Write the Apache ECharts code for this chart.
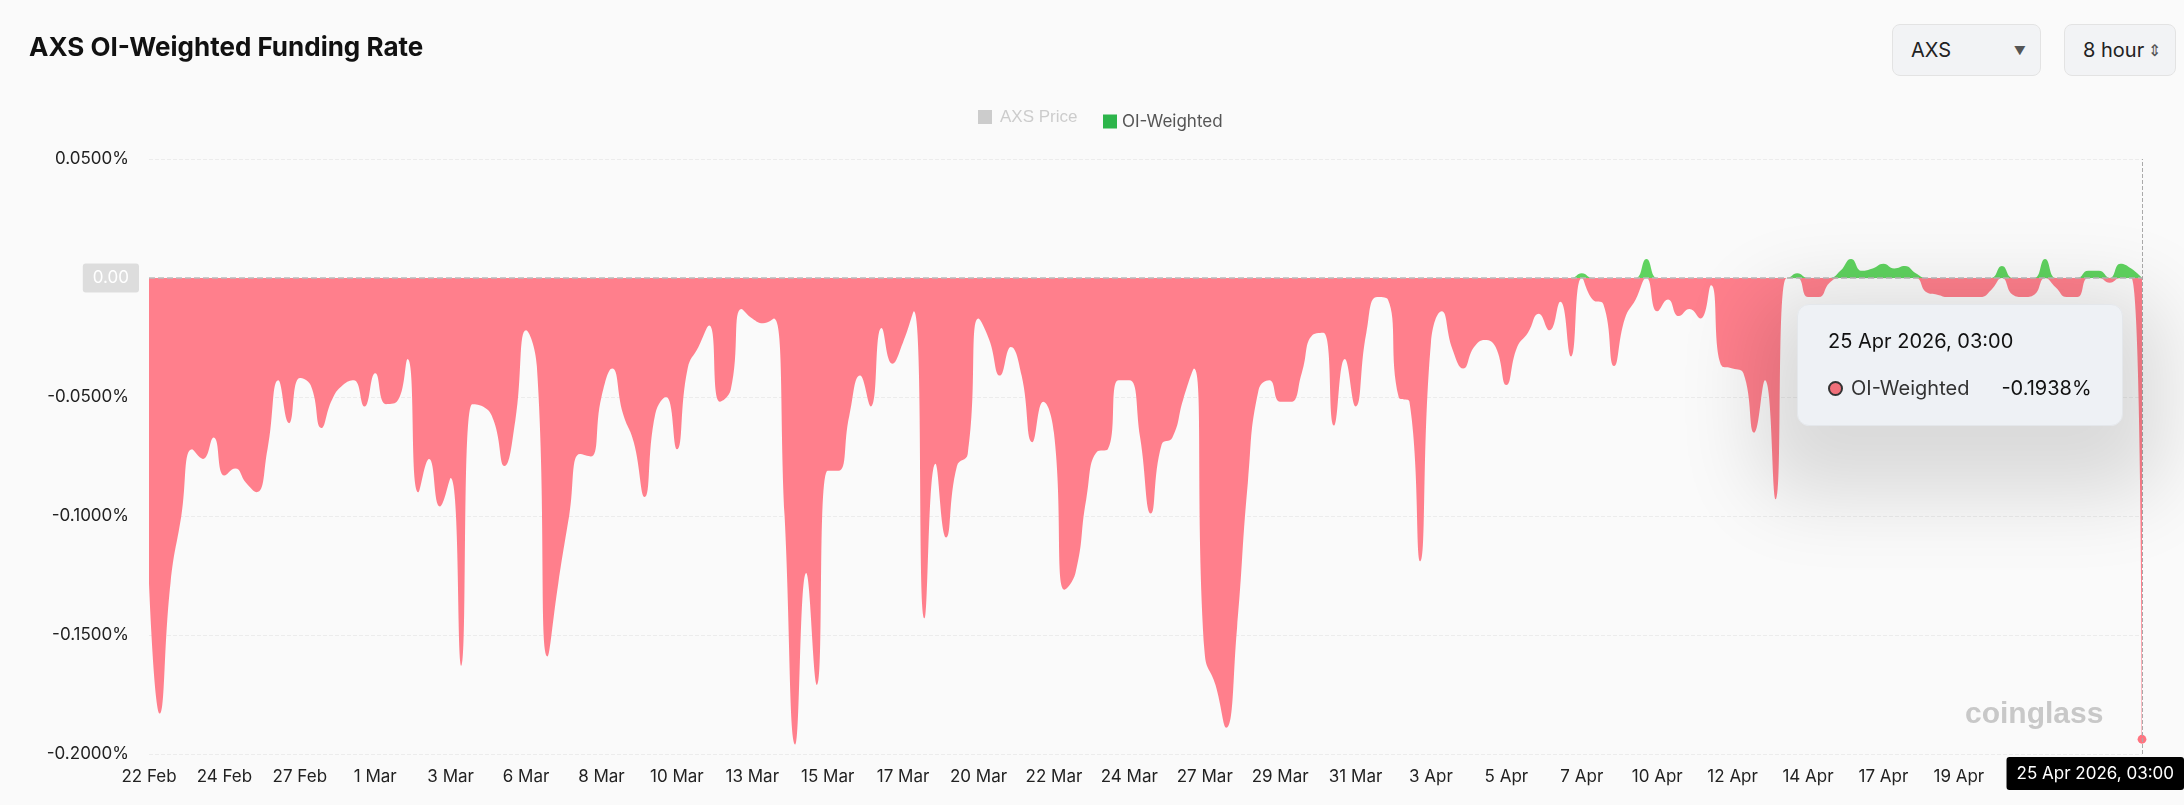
<!DOCTYPE html>
<html>
<head>
<meta charset="utf-8">
<script src="https://cdn.jsdelivr.net/npm/echarts@6/dist/echarts.min.js"></script>
<style>
  body { margin: 0; background: #fafafa; font-family: Inter, "Noto Sans", sans-serif; }
  #chart { width: 2184px; height: 805px; }
  .btn { position: absolute; top: 24px; height: 52px; border: 1px solid #e3e3e3; border-radius: 8px; background: #f2f3f5; white-space: nowrap;
         font-size: 20px; color: #222; display: flex; align-items: center; box-sizing: border-box; padding: 0 14px 0 18px; }
  .tab { position: absolute; top: -20px; height: 24px; border: 1px solid #e3e3e3; border-radius: 8px; background: #f2f2f2; }
</style>
</head>
<body>
<div class="tab" style="left:0;width:100px"></div>
<div class="tab" style="left:148px;width:342px"></div>
<div class="tab" style="left:515px;width:128px"></div>
<div class="tab" style="left:650px;width:150px"></div>
<div id="chart"></div>
<div class="btn" style="left:1892px;width:149px;justify-content:space-between">AXS <span style="font-size:12px;color:#555">&#9660;</span></div>
<div class="btn" style="left:2064px;width:112px;justify-content:space-between">8 hour <span style="font-size:16px;color:#555">&#8661;</span></div>
<script>
// funding rate, %, one point per 8 hours, ending 25 Apr 2026 03:00
const lastTime = Date.UTC(2026, 3, 25, 3, 0);
const values = [
  -0.128, -0.183, -0.128, -0.100, -0.072, -0.076, -0.067, -0.083, -0.080, -0.086,
  -0.090, -0.072, -0.043, -0.061, -0.042, -0.045, -0.063, -0.051, -0.045, -0.043,
  -0.054, -0.040, -0.053, -0.052, -0.034, -0.090, -0.076, -0.096, -0.084, -0.163,
  -0.053, -0.054, -0.060, -0.079, -0.060, -0.022, -0.037, -0.159, -0.128, -0.100,
  -0.074, -0.075, -0.050, -0.038, -0.057, -0.069, -0.092, -0.057, -0.050,
  -0.072, -0.038, -0.029, -0.020, -0.052, -0.047, -0.013, -0.017, -0.019, -0.017,
  -0.100, -0.196, -0.124, -0.171, -0.081, -0.081, -0.058, -0.041, -0.054, -0.021,
  -0.036, -0.027, -0.014, -0.143, -0.078, -0.109, -0.079, -0.074, -0.017, -0.026,
  -0.041, -0.029, -0.041, -0.069, -0.052, -0.065, -0.131, -0.124, -0.093, -0.073,
  -0.072, -0.043, -0.043, -0.067, -0.099, -0.070, -0.067, -0.051, -0.038, -0.158,
  -0.171, -0.189, -0.147, -0.086, -0.047, -0.043, -0.052, -0.052, -0.040, -0.024,
  -0.023, -0.062, -0.034, -0.054, -0.023, -0.008, -0.009, -0.050, -0.052,
  -0.119, -0.027, -0.014, -0.030, -0.038, -0.029, -0.026, -0.029, -0.045, -0.029,
  -0.023, -0.015, -0.022, -0.010, -0.033, 0.002, -0.009, -0.011, -0.037, -0.017,
  -0.009, 0.008, -0.014, -0.009, -0.016, -0.013, -0.017, -0.003, -0.037, -0.038,
  -0.040, -0.065, -0.043, -0.093, 0.000, 0.002, -0.008, -0.008, -0.002, 0.003,
  0.008, 0.003, 0.004, 0.006, 0.004, 0.005, 0.002, -0.006, -0.007, -0.008,
  -0.008, -0.008, -0.008, -0.005, 0.005, -0.007, -0.008, -0.007, 0.008,
  -0.004, -0.008, -0.008, 0.003, 0.003, -0.002, 0.006, 0.004, -0.1938
];
const months = ['Jan','Feb','Mar','Apr','May','Jun','Jul','Aug','Sep','Oct','Nov','Dec'];
const times = values.map((v, i) => lastTime - (values.length - 1 - i) * 8 * 3600 * 1000);
const negPart = values.map(v => Math.min(v, 0));
const posPart = values.map(v => Math.max(v, 0));
const yTicks = [0.05, 0, -0.05, -0.1, -0.15, -0.2];

function pad(n) { return String(n).padStart(2, '0'); }
function fullDate(t) {
  const d = new Date(t);
  return d.getUTCDate() + ' ' + months[d.getUTCMonth()] + ' ' + d.getUTCFullYear() + ', ' + pad(d.getUTCHours()) + ':' + pad(d.getUTCMinutes());
}

const chart = echarts.init(document.getElementById('chart'));
chart.setOption({
  backgroundColor: '#fafafa',
  textStyle: { fontFamily: 'Inter, "Noto Sans", sans-serif' },
  title: {
    text: 'AXS OI-Weighted Funding Rate',
    left: 24, top: 30,
    textStyle: { fontSize: 26, fontWeight: 'bold', color: '#111' }
  },
  legend: {
    top: 108, left: 1098,
    icon: 'rect', itemWidth: 14, itemHeight: 14,
    textStyle: { fontSize: 17, color: '#555' },
    data: [{ name: 'OI-Weighted', itemStyle: { color: '#2db54b' } }]
  },
  grid: { left: 149, right: 42, top: 159, bottom: 51 },
  tooltip: {
    trigger: 'axis',
    position: [1797, 304],
    backgroundColor: '#eef1f5',
    borderColor: '#e4e7eb',
    borderWidth: 1,
    padding: [26, 30],
    extraCssText: 'border-radius:12px;box-shadow:0 30px 80px 40px rgba(0,0,0,0.13);',
    axisPointer: {
      type: 'line',
      lineStyle: { color: '#aaa', type: 'dashed' },
      label: { show: true, backgroundColor: '#000', color: '#fff', fontSize: 17, padding: [8, 10],
        formatter: p => fullDate(Number(p.value)) }
    },
    formatter: ps => {
      const i = ps[0].dataIndex;
      return '<div style="font-size:20px;color:#111;margin-bottom:26px">' + fullDate(times[i]) + '</div>' +
        '<div style="font-size:20px;color:#333;display:flex;align-items:center">' +
        '<span style="display:inline-block;width:11px;height:11px;border-radius:50%;background:#f0707a;border:2px solid #333;margin-right:8px"></span>' +
        'OI-Weighted<span style="margin-left:32px;color:#111">' + values[i].toFixed(4) + '%</span></div>';
    }
  },
  xAxis: {
    type: 'category',
    data: times,
    boundaryGap: false,
    axisLine: { show: false },
    axisTick: { show: false },
    axisLabel: {
      interval: 6, fontSize: 17, color: '#222', margin: 14,
      formatter: v => { const d = new Date(Number(v)); return d.getUTCDate() + ' ' + months[d.getUTCMonth()]; }
    }
  },
  yAxis: {
    type: 'value',
    min: yTicks[yTicks.length - 1], max: yTicks[0], interval: 0.05,
    axisLabel: { fontSize: 17, color: '#222', margin: 20,
      formatter: v => Math.abs(v) < 1e-9 ? '' : v.toFixed(4) + '%' },
    splitLine: { lineStyle: { color: '#ececec', type: 'dashed' } }
  },
  series: [
    {
      name: 'OI-Weighted', type: 'line', smooth: true, showSymbol: false,
      symbol: 'circle', symbolSize: 8,
      data: negPart,
      itemStyle: { color: '#ff7480' },
      lineStyle: { width: 0 },
      areaStyle: { color: '#ff7480', opacity: 1 },
      markLine: {
        silent: true, symbol: 'none',
        data: [{ yAxis: 0 }],
        lineStyle: { color: '#bbb', type: 'dashed', width: 1.5 },
        label: { position: 'start', formatter: '0.00', backgroundColor: '#ddd', color: '#fff', fontSize: 17,
          padding: [6, 10], borderRadius: 3, distance: 10 }
      }
    },
    {
      name: 'positive', type: 'line', smooth: true, showSymbol: false,
      data: posPart,
      itemStyle: { color: '#5fd35f' },
      lineStyle: { width: 0 },
      areaStyle: { color: '#5fd35f', opacity: 1 },
      tooltip: { show: false }
    }
  ],
  graphic: [
    { type: 'rect', left: 978, top: 110, shape: { width: 14, height: 14 }, style: { fill: '#ccc' } },
    { type: 'text', left: 1000, top: 109, style: { text: 'AXS Price', fontSize: 17, fill: '#ccc' } },
    { type: 'text', left: 1965, top: 700, style: { text: 'coinglass', fontSize: 30, fontWeight: 'bold', fill: '#c8c8c8' } }
  ]
});
setTimeout(() => chart.dispatchAction({ type: 'showTip', seriesIndex: 0, dataIndex: values.length - 1 }), 50);
</script>
</body>
</html>
